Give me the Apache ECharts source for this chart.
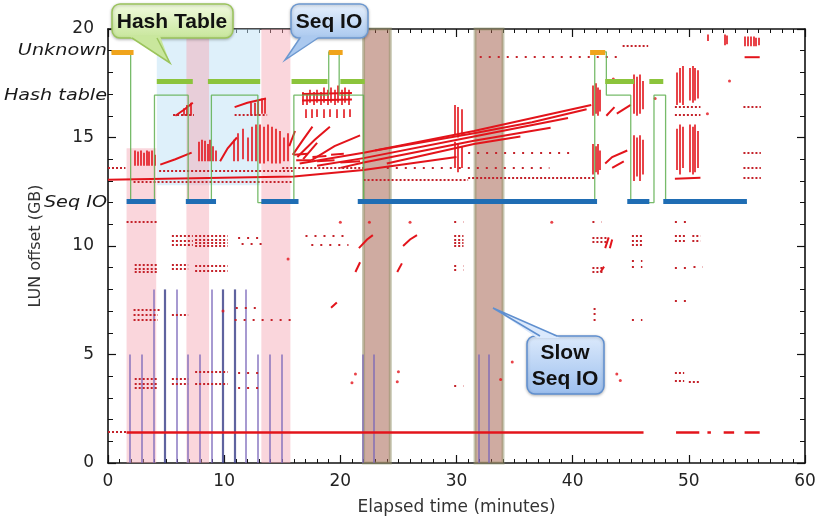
<!DOCTYPE html>
<html>
<head>
<meta charset="utf-8">
<title>LUN offset vs elapsed time</title>
<script src="https://cdn.jsdelivr.net/npm/echarts@6/dist/echarts.min.js"></script>
<style>
  html, body { margin: 0; padding: 0; background: #fff; }
  #chart { width: 820px; height: 521px; }
</style>
</head>
<body>
<div id="chart"></div>
<script>
// phase names shown on the left, at their level (GB)
const stateNames = ['Seq IO', 'Hash table', 'Unknown'];
const stateLabelY = [12.0, 16.9, 19.0];

// thick phase bars, [start, end] in minutes
const unknownSegs = [[0.3, 2.2], [19.0, 20.2], [41.5, 42.8]];
const hashSegs = [[4.2, 7.3], [8.6, 13.1], [15.8, 18.9], [20.0, 22.1], [42.8, 45.3], [46.6, 47.8]];
const seqSegs = [[1.6, 4.1], [6.7, 9.3], [13.2, 16.4], [21.5, 42.1], [44.7, 46.6], [47.8, 55.0]];
const unknownLevel = 18.95, hashLevel = 17.6, seqLevel = 12.05;

// thin phase trace (step vertices)
const phaseTrace = [
  [0.3, 18.95], [1.95, 18.95], [1.95, 12.0], [4.0, 12.0], [4.0, 16.95], [6.9, 16.95],
  [6.9, 12.0], [8.9, 12.0], [8.9, 16.95], [12.9, 16.95], [12.9, 12.0], [16.0, 12.0],
  [16.0, 16.95], [19.0, 16.95], [19.0, 18.95], [19.9, 18.95], [19.9, 16.95], [22.0, 16.95],
  [22.0, 12.0], [41.9, 12.0], [41.9, 18.95], [42.9, 18.95], [42.9, 16.95], [45.0, 16.95],
  [45.0, 12.0], [47.0, 12.0], [47.0, 16.95], [48.0, 16.95], [48.0, 12.0], [55.0, 12.0]
];

// shaded periods: [start, end, bottom, top]
const hashShade = [[4.2, 13.1, 12.8, 20]];
const pinkShade = [[1.6, 4.15, 0, 14.5], [6.75, 8.7, 0, 20], [13.2, 15.7, 0, 20]];
const slowShade = [[22.0, 24.3, 0, 20], [31.6, 34.0, 0, 20]];

// red trace polylines [[min, GB], ...]
const traces = [
  [[0, 13.05], [16, 13.2], [22, 13.5], [30, 14.1]],
  [[16.5, 13.8], [22, 14.3], [31.5, 15.3], [41.6, 16.5]],
  [[18, 13.7], [22, 14.05], [31.5, 15.05], [39.6, 15.9]],
  [[20, 13.6], [22, 13.85], [31.5, 14.85], [38.1, 15.45]],
  [[23, 14.4], [31.5, 15.2], [36.5, 15.7], [41.2, 16.3]],
  [[24, 13.8], [31.5, 14.7], [35.5, 15.05]],
  [[15.9, 14.2], [16.8, 14.9], [17.6, 15.5]],
  [[16.3, 14.1], [17.8, 14.9], [19.1, 15.5]],
  [[16.8, 14.0], [18.0, 14.75]],
  [[17.5, 13.95], [19.5, 14.6], [21.7, 15.1]],
  [[15.6, 14.6], [16.1, 15.3]],
  [[4.5, 13.75], [5.8, 14.0], [7.2, 14.3]],
  [[9.65, 13.9], [10.3, 14.5], [11.1, 15.0]],
  [[5.8, 16.0], [6.6, 16.3], [7.3, 16.6]],
  [[10.9, 16.4], [12.0, 16.6], [13.6, 16.8]],
  [[16.7, 17.0], [21.0, 17.05]],
  [[16.7, 16.7], [21.0, 16.75]],
  [[16.0, 14.2], [17.2, 14.25]], [[17.6, 14.1], [18.8, 14.15]], [[19.2, 14.2], [20.3, 14.25]],
  [[16.2, 13.95], [17.5, 13.95]], [[18.0, 13.9], [19.5, 13.95]], [[20.0, 13.85], [21.7, 13.9]],
  [[42.9, 16.0], [43.6, 16.4]],
  [[43.8, 16.1], [45.0, 16.5]],
  [[42.8, 13.8], [43.4, 14.1], [44.7, 14.4]],
  [[43.4, 13.6], [44.4, 13.9]],
  [[21.3, 8.8], [21.7, 9.25]],
  [[21.6, 9.9], [22.3, 10.3], [22.8, 10.5]],
  [[24.9, 8.8], [25.3, 9.2]],
  [[25.4, 10.0], [26.0, 10.3], [26.6, 10.5]],
  [[19.2, 7.15], [19.7, 7.4]],
  [[42.8, 9.9], [43.1, 10.4]],
  [[43.2, 9.9], [43.4, 10.3]],
  [[42.4, 8.8], [42.7, 9.05]],
  [[54.8, 18.7], [56.1, 18.7]],
  [[48.8, 13.1], [51.0, 13.15]]
];

// short vertical streaks [min, GB from, GB to]
const vStreaks = [
  [2.3, 13.7, 14.4], [2.55, 13.7, 14.35], [2.8, 13.7, 14.4], [3.05, 13.7, 14.3],
  [3.3, 13.7, 14.4], [3.55, 13.7, 14.35], [3.8, 13.7, 14.4], [4.05, 13.7, 14.2],
  [7.8, 13.9, 14.8], [8.05, 13.9, 14.9], [8.3, 13.9, 14.85], [8.55, 13.9, 14.7],
  [8.8, 13.9, 14.9], [9.05, 13.9, 14.6], [9.3, 13.9, 14.4],
  [10.8, 13.9, 14.9], [11.2, 13.9, 15.2], [11.6, 14.0, 15.4], [12.0, 13.9, 15.0],
  [12.35, 13.9, 15.5], [12.7, 13.9, 15.6], [13.05, 13.8, 15.6], [13.4, 13.8, 15.5],
  [13.75, 13.9, 15.6], [14.1, 13.8, 15.5], [14.45, 13.8, 15.4], [14.8, 13.8, 15.3],
  [15.15, 13.9, 15.0], [15.5, 13.9, 15.2],
  [6.5, 16.0, 16.35], [6.8, 16.0, 16.5], [7.1, 16.0, 16.6],
  [12.3, 16.0, 16.6], [12.6, 16.0, 16.6], [12.9, 16.0, 16.7], [13.2, 16.1, 16.8], [13.5, 16.1, 16.8],
  [16.8, 16.5, 17.1], [17.1, 16.5, 17.0], [17.4, 16.6, 17.2], [17.7, 16.5, 17.1],
  [18.0, 16.6, 17.2], [18.3, 16.5, 17.1], [18.6, 16.6, 17.3], [18.9, 16.5, 17.2],
  [19.2, 16.6, 17.3], [19.5, 16.5, 17.2], [19.8, 16.6, 17.4], [20.1, 16.5, 17.2],
  [20.4, 16.6, 17.3], [20.7, 16.5, 17.2],
  [17.0, 15.9, 16.3], [17.5, 15.9, 16.3], [18.0, 15.95, 16.3], [18.6, 15.9, 16.3],
  [19.1, 15.95, 16.3], [19.7, 15.9, 16.3], [20.3, 15.9, 16.3], [20.8, 15.95, 16.3],
  [29.85, 15.1, 16.5], [30.15, 15.0, 16.4], [30.45, 15.1, 16.3],
  [29.85, 13.6, 14.8], [30.15, 13.4, 14.7], [30.45, 13.6, 14.6],
  [41.75, 16.0, 17.4], [41.95, 16.1, 17.5], [42.15, 16.0, 17.3], [42.35, 16.2, 17.2],
  [41.75, 13.3, 14.7], [41.95, 13.4, 14.6], [42.15, 13.3, 14.7], [42.35, 13.5, 14.4],
  [45.3, 16.1, 17.9], [45.55, 16.0, 17.8], [45.8, 16.1, 17.9], [46.05, 16.3, 17.6],
  [45.3, 13.0, 15.1], [45.55, 13.2, 15.0], [45.8, 13.0, 15.1], [46.05, 13.3, 14.9],
  [48.95, 16.5, 18.0], [49.2, 16.6, 18.2], [49.45, 16.5, 18.3],
  [48.95, 13.5, 15.4], [49.2, 13.3, 15.6], [49.45, 13.6, 15.5],
  [50.05, 16.7, 18.2], [50.3, 16.6, 18.3], [50.55, 16.7, 18.2], [50.8, 16.8, 18.1],
  [50.05, 13.4, 15.6], [50.3, 13.3, 15.5], [50.55, 13.4, 15.6], [50.8, 13.6, 15.3],
  [54.8, 19.2, 19.65], [55.05, 19.2, 19.65], [55.3, 19.2, 19.65], [55.55, 19.2, 19.65],
  [55.8, 19.2, 19.6], [56.05, 19.25, 19.6],
  [51.6, 19.45, 19.75], [53.1, 19.25, 19.75], [53.3, 19.3, 19.7]
];

// dense dotted rows [from min, to min, GB]
const dotRows = [
  [0, 1.6, 1.43], [0, 1.5, 13.6], [2.2, 15.8, 12.95], [4.4, 15.9, 13.45],
  [5.6, 7.4, 16.05], [10.9, 13.7, 16.05], [15.0, 22.0, 13.62], [22, 31, 13.05], [31, 42, 13.15],
  [48.8, 51.0, 16.4], [48.8, 51.0, 16.05], [54.7, 56.2, 16.4], [54.7, 56.2, 14.3],
  [54.7, 56.2, 13.6], [54.7, 56.2, 13.15], [44.3, 46.5, 19.25],
  [1.6, 4.3, 11.1], [5.5, 7.3, 10.45], [5.5, 7.3, 10.25], [5.5, 7.3, 10.05],
  [7.5, 10.3, 10.45], [7.5, 10.3, 10.3], [7.5, 10.3, 10.15], [7.5, 10.3, 10.0],
  [2.3, 4.3, 9.15], [2.3, 4.3, 8.95], [2.3, 4.3, 8.8], [5.5, 6.9, 9.15], [5.5, 6.9, 8.95],
  [7.5, 10.3, 9.1], [7.5, 10.3, 8.85],
  [2.2, 4.6, 7.05], [2.2, 4.3, 6.85], [2.2, 4.3, 6.6], [5.5, 6.9, 6.85],
  [2.3, 4.3, 3.9], [2.3, 4.3, 3.65], [2.3, 4.3, 3.45], [5.5, 6.9, 3.9], [5.5, 6.9, 3.65],
  [7.5, 10.3, 4.2], [7.5, 10.3, 3.65],
  [29.8, 30.6, 10.45], [29.8, 30.6, 10.3], [29.8, 30.6, 10.15], [29.8, 30.6, 10.0],
  [41.7, 43.0, 10.4], [41.7, 43.0, 10.2], [41.7, 42.6, 9.0], [41.7, 42.6, 8.8],
  [45.1, 46.0, 10.45], [45.1, 46.0, 10.25], [45.1, 46.0, 10.05],
  [48.8, 49.8, 10.45], [48.8, 49.8, 10.25], [50.3, 51.0, 10.45], [50.3, 51.0, 10.25],
  [48.8, 49.6, 4.15], [48.8, 49.6, 3.8], [50.0, 51.0, 3.75]
];

// sparse dotted rows [from min, to min, GB]
const sparseRows = [
  [11.2, 13.5, 10.4], [11.5, 13.3, 10.1], [11.0, 13.0, 7.15], [10.9, 15.8, 6.6],
  [11.2, 13.5, 4.15], [11.2, 13.5, 3.45], [17.0, 20.7, 10.45], [17.5, 20.7, 10.05],
  [31, 40, 14.3], [24, 38, 13.6], [32, 44, 18.7], [29.8, 30.6, 9.1], [29.8, 30.6, 8.9],
  [29.8, 30.6, 11.1], [29.8, 30.6, 3.55], [41.7, 42.5, 11.1], [41.8, 42.5, 7.1],
  [41.8, 42.5, 6.9], [41.8, 42.5, 6.6], [45.1, 46.0, 9.3], [45.1, 46.0, 9.05],
  [45.1, 46.0, 6.6], [48.8, 49.8, 11.1], [48.8, 49.8, 9.0], [50.4, 51.2, 9.05], [48.8, 49.8, 7.5]
];

// isolated points [min, GB]
const dots = [
  [9.9, 7.0], [15.5, 9.4], [21.3, 4.1], [21.0, 3.7], [24.9, 3.75], [25.0, 4.2],
  [34.8, 4.65], [33.8, 3.85], [43.8, 4.1], [44.1, 3.8], [47.1, 16.8], [43.5, 17.7],
  [51.6, 16.1], [53.5, 17.6], [20.0, 11.1], [22.5, 11.1], [26.0, 11.1], [38.2, 11.1]
];

// red run at the bottom of the LUN [from, to] and its level
const baseRuns = [[1.6, 46.1], [48.9, 50.9], [51.6, 51.9], [53.0, 53.9], [54.8, 56.1]];
const baseY = 1.43;

// thin vertical bars [min, height GB]
const vBarsLight = [[1.9, 5], [2.9, 5], [3.95, 8], [5.9, 8], [6.9, 5], [7.9, 5], [8.9, 8],
  [11.9, 8], [12.9, 5], [13.9, 5], [14.95, 5], [21.9, 5], [22.9, 5], [31.9, 5], [32.8, 5]];
const vBarsDark = [[4.9, 8], [9.9, 8], [10.9, 8]];

const RED = '#e3141b';
const DOTRED = '#c4222a';

const segLines = (segs, level) => segs.map(s => ({ coords: [[s[0], level], [s[1], level]] }));
const rowLines = rows => rows.map(r => ({ coords: [[r[0], r[2]], [r[1], r[2]]] }));
const vLines = bars => bars.map(b => ({ coords: [[b[0], 0], [b[0], b[1]]] }));
const area = (list, color, border) => list.map(a => [
  { xAxis: a[0], yAxis: a[2], itemStyle: { color: color, borderColor: border || 'transparent', borderWidth: border ? 3 : 0 } },
  { xAxis: a[1], yAxis: a[3] }
]);

const chart = echarts.init(document.getElementById('chart'), null, { renderer: 'canvas' });

const axisLine = { show: true, onZero: false, lineStyle: { color: '#111', width: 1.6 } };
const tick = { show: true, inside: true, length: 8, lineStyle: { color: '#111', width: 1.2 } };
const minor = { show: true, splitNumber: 10, length: 4, lineStyle: { color: '#111', width: 1 } };
const minorY = { show: true, splitNumber: 5, length: 5, lineStyle: { color: '#111', width: 1 } };
const tickFont = { fontFamily: 'DejaVu Sans', fontSize: 17, color: '#222' };

const option = {
  animation: false,
  backgroundColor: '#fff',
  grid: { left: 108, right: 15, top: 29, bottom: 57, containLabel: false },
  xAxis: [
    {
      type: 'value', min: 0, max: 60, interval: 10, position: 'bottom',
      axisLine, axisTick: tick, minorTick: minor, splitLine: { show: false },
      axisLabel: Object.assign({ margin: 10 }, tickFont),
      name: 'Elapsed time (minutes)', nameLocation: 'middle', nameGap: 36,
      nameTextStyle: { fontFamily: 'DejaVu Sans', fontSize: 17, color: '#333' }
    },
    {
      type: 'value', min: 0, max: 60, interval: 10, position: 'top',
      axisLine, axisTick: tick, minorTick: minor, splitLine: { show: false },
      axisLabel: { show: false }
    }
  ],
  yAxis: [
    {
      type: 'value', min: 0, max: 20, interval: 5, position: 'left',
      axisLine, axisTick: tick, minorTick: minorY, splitLine: { show: false },
      axisLabel: Object.assign({ margin: 14 }, tickFont),
      name: 'LUN offset (GB)', nameLocation: 'middle', nameGap: 64,
      nameTextStyle: { fontFamily: 'DejaVu Sans', fontSize: 16, color: '#333' }
    },
    {
      type: 'value', min: 0, max: 20, interval: 5, position: 'right',
      axisLine, axisTick: tick, minorTick: minorY, splitLine: { show: false },
      axisLabel: { show: false }
    }
  ],
  series: [
    {
      name: 'bars', type: 'lines', coordinateSystem: 'cartesian2d', z: 2, silent: true,
      lineStyle: { color: 'rgba(120,100,185,0.65)', width: 2, opacity: 1 },
      data: vLines(vBarsLight)
    },
    {
      name: 'barsDark', type: 'lines', coordinateSystem: 'cartesian2d', z: 2, silent: true,
      lineStyle: { color: 'rgba(55,60,135,0.8)', width: 2.2, opacity: 1 },
      data: vLines(vBarsDark)
    },
    {
      name: 'traces', type: 'lines', coordinateSystem: 'cartesian2d', polyline: true, z: 2, silent: true,
      lineStyle: { color: RED, width: 2, opacity: 1 },
      data: traces.map(t => ({ coords: t }))
    },
    {
      name: 'streaks', type: 'lines', coordinateSystem: 'cartesian2d', z: 2, silent: true,
      lineStyle: { color: RED, width: 1.6, opacity: 1 },
      data: vStreaks.map(s => ({ coords: [[s[0], s[1]], [s[0], s[2]]] }))
    },
    {
      name: 'dotRows', type: 'lines', coordinateSystem: 'cartesian2d', z: 2, silent: true,
      lineStyle: { color: DOTRED, width: 2, type: [2, 2], opacity: 1 },
      data: rowLines(dotRows)
    },
    {
      name: 'sparseRows', type: 'lines', coordinateSystem: 'cartesian2d', z: 2, silent: true,
      lineStyle: { color: DOTRED, width: 2, type: [2, 7], opacity: 1 },
      data: rowLines(sparseRows)
    },
    {
      name: 'base', type: 'lines', coordinateSystem: 'cartesian2d', z: 2, silent: true,
      lineStyle: { color: RED, width: 2.6, opacity: 1 },
      data: segLines(baseRuns, baseY)
    },
    {
      name: 'dots', type: 'scatter', z: 2, silent: true, symbolSize: 3,
      itemStyle: { color: RED }, data: dots
    },
    {
      name: 'shade', type: 'line', z: 3, silent: true, data: [], showSymbol: false,
      markArea: {
        silent: true,
        data: [].concat(
          area(hashShade, 'rgba(190,225,245,0.5)'),
          area(pinkShade, 'rgba(245,165,178,0.45)'),
          area(slowShade, 'rgba(160,88,68,0.5)', 'rgba(150,150,110,0.55)')
        )
      }
    },
    {
      name: 'phase', type: 'line', z: 4, silent: true, data: phaseTrace, showSymbol: false,
      lineStyle: { color: 'rgba(95,175,80,0.85)', width: 1.3 }
    },
    {
      name: 'unknown', type: 'lines', coordinateSystem: 'cartesian2d', z: 5, silent: true,
      lineStyle: { color: '#f0a41c', width: 5, opacity: 1, cap: 'butt' },
      data: segLines(unknownSegs, unknownLevel)
    },
    {
      name: 'hash', type: 'lines', coordinateSystem: 'cartesian2d', z: 5, silent: true,
      lineStyle: { color: '#8cc43c', width: 5, opacity: 1, cap: 'butt' },
      data: segLines(hashSegs, hashLevel)
    },
    {
      name: 'seq', type: 'lines', coordinateSystem: 'cartesian2d', z: 5, silent: true,
      lineStyle: { color: '#1f6db4', width: 5, opacity: 1, cap: 'butt' },
      data: segLines(seqSegs, seqLevel)
    }
  ]
};

chart.setOption(option);

// phase labels, placed through the y scale
const stateText = stateNames.map((name, i) => ({
  type: 'text', id: 'state' + i, z: 20,
  x: 107, y: chart.convertToPixel({ yAxisIndex: 0 }, stateLabelY[i]), scaleX: 1.2,
  style: { text: name, font: 'italic 16px "DejaVu Sans"', fill: '#1a1a1a', textAlign: 'right', textVerticalAlign: 'middle' }
}));

const grad = (a, b) => new echarts.graphic.LinearGradient(0, 0, 0, 1, [{ offset: 0, color: a }, { offset: 1, color: b }]);
const calloutFont = 'bold 21px "Liberation Sans"';

function callout(id, box, tail, tailSides, colors, text, tx, ty) {
  return [
    { type: 'rect', id: id + 'box', z: 30, shape: { x: box[0], y: box[1], width: box[2], height: box[3], r: 8 },
      style: { fill: grad(colors[0], colors[1]), stroke: colors[2], lineWidth: 1.5, shadowBlur: 3, shadowColor: 'rgba(0,0,0,0.25)', shadowOffsetY: 1 } },
    { type: 'polygon', id: id + 'tail', z: 31, shape: { points: tail }, style: { fill: colors[3], stroke: null } },
    { type: 'polyline', id: id + 'edge', z: 32, shape: { points: tailSides }, style: { fill: null, stroke: colors[2], lineWidth: 1.5 } },
    { type: 'text', id: id + 'text', z: 33, x: tx, y: ty,
      style: { text: text, font: calloutFont, fill: '#111', textAlign: 'center', textVerticalAlign: 'middle', lineHeight: 26 } }
  ];
}

const callouts = [].concat(
  callout('hash', [112, 4, 121, 34], [[129, 36], [160, 36], [170, 63]], [[132, 38], [170, 63], [157, 38]],
    ['#f2fbe0', '#c7e69a', '#9bc45c', '#c9e79d'], 'Hash Table', 172, 22),
  callout('seq', [291, 4, 77, 34], [[302, 36], [320, 36], [285, 60]], [[300, 38], [285, 60], [318, 38]],
    ['#e8f1fd', '#a9c8ef', '#6c98d0', '#abc9ef'], 'Seq IO', 329, 22),
  callout('slow', [527, 336, 77, 58], [[537, 338], [560, 338], [493, 308]], [[540, 336], [493, 308], [557, 336]],
    ['#dceafc', '#9cbfee', '#5f8fcf', '#dbe9fc'], 'Slow\nSeq IO', 565, 366)
);

chart.setOption({ graphic: stateText.concat(callouts) });
</script>
</body>
</html>
